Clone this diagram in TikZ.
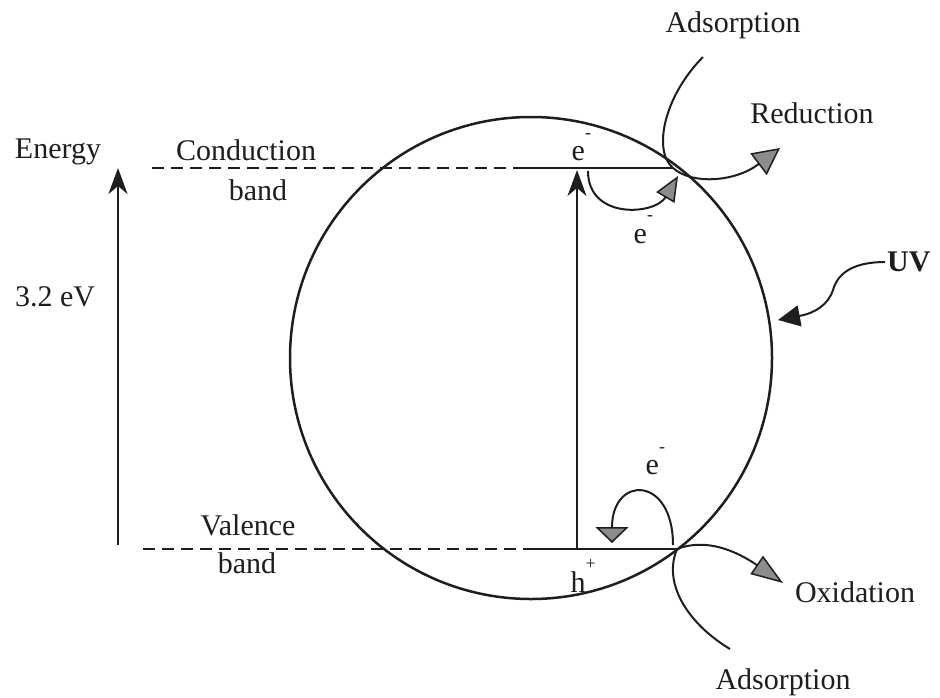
\documentclass[tikz,border=0pt]{standalone}
\usepackage{fontspec}
\setmainfont{Liberation Serif}
\usetikzlibrary{arrows.meta}
\definecolor{ink}{HTML}{1E1E1E}
\definecolor{tipgray}{HTML}{8C8C8C}
\newcommand{\supr}[2]{#1\raisebox{0.75em}{\fontsize{18}{18}\selectfont #2}}
\begin{document}
\begin{tikzpicture}[x=1pt,y=-1pt,
  font=\fontsize{30}{36}\selectfont,
  every node/.style={text=ink, inner sep=0pt},
  lbl/.style={},
  bandline/.style={draw=ink, line width=1.5pt},
  bandcut/.style={bandline, dash pattern=on 12pt off 7pt},
  flow/.style={draw=ink, line width=2pt},
  gtip/.style={-{Triangle[length=27pt,width=27pt,fill=tipgray,line width=1.5pt]}},
  gtipsmall/.style={-{Triangle[length=25pt,width=21pt,fill=tipgray,line width=1.5pt]}},
  gtipflat/.style={-{Triangle[length=16pt,width=33pt,fill=tipgray,line width=1.5pt]}},
  gtiplong/.style={-{Triangle[length=32pt,width=22pt,fill=tipgray,line width=1.5pt]}},
  ktip/.style={-{Stealth[length=26pt,width=19pt,inset=8pt]}},
  uvtip/.style={-{Triangle[length=22pt,width=21pt]}}
]
\useasboundingbox (0,0) rectangle (940,697);

% particle
\node[draw=ink, line width=2.5pt, circle, minimum size=482pt] (particle) at (531,358) {};

% coordinates
\coordinate (cbDashL) at (152,168);
\coordinate (cbL) at (523,168);
\coordinate (cbR) at (673,168);
\coordinate (vbDashL) at (143,549);
\coordinate (vbL) at (525,549);
\coordinate (vbR) at (677,549);
\coordinate (enBot) at (118,545);
\coordinate (enTop) at (118,168);
\coordinate (exBot) at (577,549);
\coordinate (exTop) at (577,170);

% bands
\draw[bandcut] (cbDashL) -- (cbL);
\draw[bandline] (cbL) -- (cbR);
\draw[bandcut] (vbDashL) -- (vbL);
\draw[bandline] (vbL) -- (vbR);

% energy arrows
\draw[bandline, ktip] (enBot) -- (enTop);
\draw[bandline, ktip] (exBot) -- (exTop);

% labels
\node (energy) at (58,152) {Energy};
\node (gap) at (55,297) {3.2 eV};
\node (cond) at (246,150) {Conduction};
\node (condb) at (258,190) {band};
\node (val) at (248,525) {Valence};
\node (valb) at (247,563) {band};

\node[anchor=base west] (e1) at (571.5,160.5) {\supr{e}{-}};
\node[anchor=base west] (e2) at (633.5,243) {\supr{e}{-}};
\node[anchor=base west] (e3) at (645.5,474.5) {\supr{e}{-}};
\node[anchor=base west] (h1) at (570.5,592) {\supr{h}{+}};

\node (adsTop) at (733,25) {Adsorption};
\node (red) at (812,113) {Reduction};
\node (ox) at (855,592) {Oxidation};
\node (adsBot) at (783,682) {Adsorption};
\node[anchor=west, font=\fontsize{30}{36}\selectfont\bfseries] (uv) at (887,262) {UV};

% connectors at conduction band
\coordinate (adsTopStart) at (703,57);
\coordinate (redTip) at (780,148);
\coordinate (eStart) at (588,171);
\coordinate (eTip) at (678,176);
\draw[flow] (adsTopStart) .. controls (665,95) and (652,150) .. (cbR);
\draw[flow, gtip] (cbR) .. controls (692,185) and (735,182) .. (redTip);
\draw[flow, gtipsmall] (eStart) .. controls (588,220) and (655,215) .. (eTip);

% connectors at valence band
\coordinate (hookStart) at (673,545);
\coordinate (hookTip) at (612,543);
\coordinate (oxTip) at (783,583);
\coordinate (adsBotEnd) at (730,649);
\draw[flow, gtipflat] (hookStart) .. controls (673,475) and (612,475) .. (hookTip);
\draw[flow, gtiplong] (vbR) .. controls (705,538) and (735,550) .. (oxTip);
\draw[flow] (vbR) .. controls (662,585) and (690,625) .. (adsBotEnd);

% UV
\coordinate (uvStart) at (885,262);
\coordinate (uvTip) at (778,320);
\draw[flow, uvtip] (uvStart) .. controls (855,262) and (838,272) .. (833,290)
   .. controls (828,305) and (815,313) .. (uvTip);
\end{tikzpicture}
\end{document}
